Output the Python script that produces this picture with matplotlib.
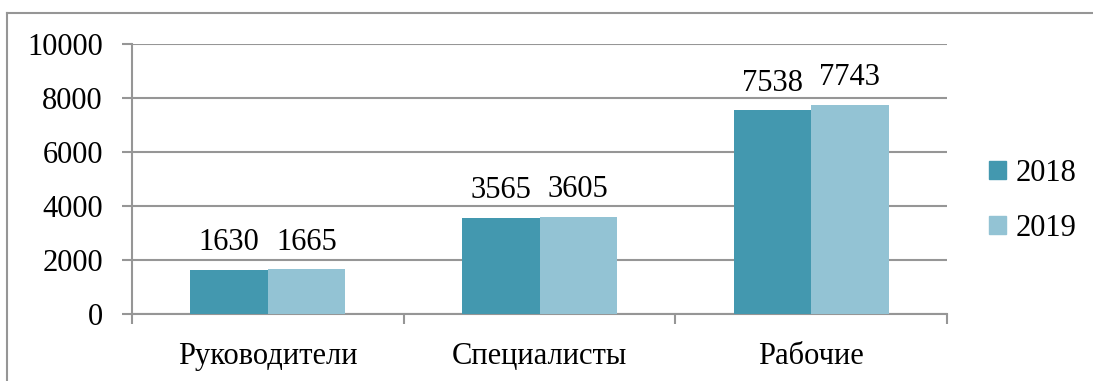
import matplotlib.pyplot as plt
from matplotlib.lines import Line2D
from matplotlib.patches import Patch
import numpy as np

categories = ["Руководители", "Специалисты", "Рабочие"]
years = ["2018", "2019"]
values_2018 = [1630, 3565, 7538]
values_2019 = [1665, 3605, 7743]
y_ticks = [0, 2000, 4000, 6000, 8000, 10000]

plt.rcParams['font.family'] = ['Liberation Serif', 'DejaVu Serif']

dark = '#4398AF'
light = '#93C3D4'
grid_color = '#969696'

fig = plt.figure(figsize=(10.93, 3.81), dpi=100)
ax = fig.add_axes([132 / 1093, 1 - 314 / 381, 815 / 1093, 270 / 381])

# outer frame of the chart area (left and top edges)
fx, fy = 7 / 1093, 1 - 13 / 381
fig.add_artist(Line2D([fx, fx], [0, fy], transform=fig.transFigure,
                      color=grid_color, linewidth=1.5))
fig.add_artist(Line2D([fx, 1], [fy, fy], transform=fig.transFigure,
                      color=grid_color, linewidth=1.5))

x = np.arange(len(categories))
w = 0.285
b1 = ax.bar(x - w / 2, values_2018, w, color=dark, label=years[0], zorder=3)
b2 = ax.bar(x + w / 2, values_2019, w, color=light, label=years[1], zorder=3)

for bars, vals in ((b1, values_2018), (b2, values_2019)):
    for rect, v in zip(bars, vals):
        ax.annotate(f"{v}", (rect.get_x() + rect.get_width() / 2, v),
                    xytext=(0, 9), textcoords='offset points',
                    ha='center', va='bottom', fontsize=22, color='black')

ax.set_xlim(-0.5, len(categories) - 0.5)
ax.set_ylim(0, 10000)
ax.set_yticks(y_ticks)
ax.set_yticklabels([str(t) for t in y_ticks], fontsize=22)
ax.yaxis.grid(True, color=grid_color, linewidth=1.5, zorder=0)
ax.set_axisbelow(True)

# category labels centred, ticks at category boundaries
ax.set_xticks(x)
ax.set_xticklabels(categories, fontsize=22)
ax.tick_params(axis='x', length=0, pad=20)
ax.set_xticks(np.arange(len(categories) + 1) - 0.5, minor=True)
ax.tick_params(axis='x', which='minor', length=7, width=1.5, color=grid_color)
ax.tick_params(axis='y', length=7, width=1.5, color=grid_color, pad=14)

for s in ('top', 'right'):
    ax.spines[s].set_visible(False)
ax.spines['left'].set_color(grid_color)
ax.spines['left'].set_linewidth(1.5)
ax.spines['bottom'].set_color(grid_color)
ax.spines['bottom'].set_linewidth(1.5)

handles = [Patch(color=dark, label=years[0]), Patch(color=light, label=years[1])]
fig.legend(handles=handles, loc='center left',
           bbox_to_anchor=(977 / 1093, 1 - 201 / 381), frameon=False,
           fontsize=22, handlelength=0.55, handleheight=0.55,
           handletextpad=0.3, labelspacing=0.85, borderaxespad=0)

fig.savefig('out.png', dpi=100)
